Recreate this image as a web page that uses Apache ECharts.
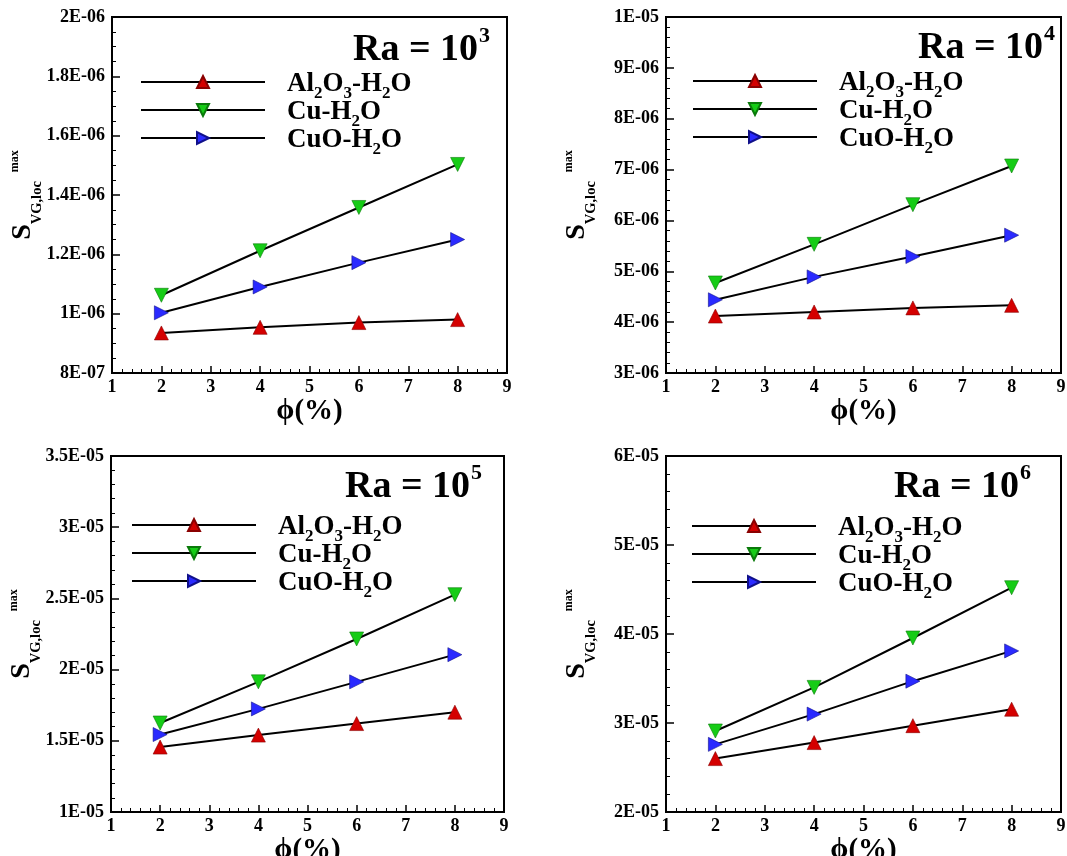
<!DOCTYPE html>
<html>
<head>
<meta charset="utf-8">
<script src="https://cdn.jsdelivr.net/npm/echarts@6/dist/echarts.min.js"></script>
<style>
  html, body { margin: 0; padding: 0; background: #ffffff; }
  #chart { width: 1067px; height: 856px; }
</style>
</head>
<body>
<div id="chart"></div>
<script>
// Nanoparticle volume fraction phi (%)
const phi = [2, 4, 6, 8];

// Nanofluid names (legend entries)
const fluidNames = ['Al2O3-H2O', 'Cu-H2O', 'CuO-H2O'];

// Rayleigh number exponents, one panel each
const raExponents = ['3', '4', '5', '6'];

// Maximum local entropy generation S_VG,loc for each Rayleigh number
const ra3Al2O3 = [0.935e-6, 0.954e-6, 0.970e-6, 0.980e-6];
const ra3Cu    = [1.062e-6, 1.212e-6, 1.358e-6, 1.503e-6];
const ra3CuO   = [1.003e-6, 1.090e-6, 1.172e-6, 1.250e-6];

const ra4Al2O3 = [4.12e-6, 4.20e-6, 4.28e-6, 4.33e-6];
const ra4Cu    = [4.77e-6, 5.53e-6, 6.31e-6, 7.07e-6];
const ra4CuO   = [4.44e-6, 4.89e-6, 5.29e-6, 5.71e-6];

const ra5Al2O3 = [1.456e-5, 1.540e-5, 1.621e-5, 1.701e-5];
const ra5Cu    = [1.625e-5, 1.914e-5, 2.215e-5, 2.526e-5];
const ra5CuO   = [1.544e-5, 1.724e-5, 1.914e-5, 2.105e-5];

const ra6Al2O3 = [2.60e-5, 2.78e-5, 2.97e-5, 3.155e-5];
const ra6Cu    = [2.91e-5, 3.40e-5, 3.955e-5, 4.52e-5];
const ra6CuO   = [2.76e-5, 3.10e-5, 3.47e-5, 3.81e-5];

const panelValues = [
  [ra3Al2O3, ra3Cu, ra3CuO],
  [ra4Al2O3, ra4Cu, ra4CuO],
  [ra5Al2O3, ra5Cu, ra5CuO],
  [ra6Al2O3, ra6Cu, ra6CuO]
];

// Axis ranges
const xMin = 1, xMax = 9, xStep = 1;
const yMin  = [8e-7, 3e-6, 1e-5, 2e-5];
const yMax  = [2e-6, 1e-5, 3.5e-5, 6e-5];
const yStep = [2e-7, 1e-6, 5e-6, 1e-5];
const yMinorSplits = [4, 5, 5, 5];

// ---- layout & style ----
const FONT = '"Liberation Serif", "Times New Roman", serif';
const grids = [
  { left: 112, top: 17,  width: 395, height: 356 },
  { left: 666, top: 17,  width: 395, height: 356 },
  { left: 111, top: 456, width: 393, height: 356 },
  { left: 666, top: 456, width: 395, height: 356 }
];
const legendPos = [
  { left: 140, top: 69 },
  { left: 692, top: 68 },
  { left: 131, top: 512 },
  { left: 691, top: 513 }
];
const titlePos = [
  { left: 353, top: 25 },
  { left: 918, top: 23 },
  { left: 345, top: 462 },
  { left: 894, top: 462 }
];
const markerStyles = [
  { symbol: 'triangle', rotate: 0,   color: '#d40000', border: '#8a0000' },
  { symbol: 'triangle', rotate: 180, color: '#16cc16', border: '#0a7a0a' },
  { symbol: 'triangle', rotate: -90, color: '#2a2aff', border: '#10108a' }
];

// Chemical formulas with subscripts
const richNames = {
  'Al2O3-H2O': '{m|Al}{s|2}{m|O}{s|3}{m|-H}{s|2}{m|O}',
  'Cu-H2O': '{m|Cu-H}{s|2}{m|O}',
  'CuO-H2O': '{m|CuO-H}{s|2}{m|O}'
};

// 1.2e-6 -> "1.2E-06"
function sciLabel(v) {
  if (v === 0) return '0';
  let e = Math.floor(Math.log10(Math.abs(v)) + 1e-9);
  let m = Math.round(v / Math.pow(10, e) * 100) / 100;
  if (m >= 10) { m /= 10; e += 1; }
  return m + 'E' + (e < 0 ? '-' : '+') + String(Math.abs(e)).padStart(2, '0');
}

const option = {
  backgroundColor: '#ffffff',
  animation: false,
  grid: [], xAxis: [], yAxis: [], legend: [], title: [], series: []
};

grids.forEach((g, p) => {
  option.grid.push(Object.assign({
    show: true, borderColor: '#000', borderWidth: 2, backgroundColor: 'transparent',
    containLabel: false, outerBoundsMode: 'none'
  }, g));

  option.xAxis.push({
    gridIndex: p, type: 'value', min: xMin, max: xMax, interval: xStep,
    name: 'ϕ(%)', nameLocation: 'middle', nameGap: 24, nameMoveOverlap: false,
    nameTextStyle: { fontFamily: FONT, fontWeight: 'bold', fontSize: 29, color: '#000' },
    axisLine: { show: true, onZero: false, lineStyle: { color: '#000', width: 2 } },
    axisTick: { show: true, inside: true, length: 7, lineStyle: { color: '#000', width: 1.5 } },
    minorTick: { show: true, splitNumber: 5, length: 4, lineStyle: { color: '#000', width: 1 } },
    axisLabel: { fontFamily: FONT, fontWeight: 'bold', fontSize: 18, color: '#000', margin: 5 },
    splitLine: { show: false }
  });

  option.yAxis.push({
    gridIndex: p, type: 'value', min: yMin[p], max: yMax[p], interval: yStep[p],
    name: '{S|S}{b|VG,loc}{p|max}', nameLocation: 'middle', nameRotate: 90, nameGap: 75,
    nameMoveOverlap: false,
    nameTextStyle: {
      color: '#000',
      rich: {
        S: { fontFamily: FONT, fontWeight: 'bold', fontSize: 28, lineHeight: 28, verticalAlign: 'top', padding: [0, 0, 0, 0], color: '#000' },
        b: { fontFamily: FONT, fontWeight: 'bold', fontSize: 14.5, lineHeight: 14, verticalAlign: 'top', padding: [21, 0, 0, 0], color: '#000' },
        p: { fontFamily: FONT, fontWeight: 'bold', fontSize: 12, lineHeight: 12, verticalAlign: 'top', padding: [0, 0, 0, 9], color: '#000' }
      }
    },
    axisLine: { show: true, onZero: false, lineStyle: { color: '#000', width: 2 } },
    axisTick: { show: true, inside: true, length: 8, lineStyle: { color: '#000', width: 1.5 } },
    minorTick: { show: true, splitNumber: yMinorSplits[p], length: 4, lineStyle: { color: '#000', width: 1 } },
    axisLabel: { fontFamily: FONT, fontWeight: 'bold', fontSize: 18, color: '#000', margin: 7, formatter: sciLabel },
    splitLine: { show: false }
  });

  option.title.push({
    left: titlePos[p].left, top: titlePos[p].top, padding: 0,
    text: '{a|Ra = 10}{b|' + raExponents[p] + '}',
    textStyle: {
      rich: {
        a: { fontFamily: FONT, fontWeight: 'bold', fontSize: 38, lineHeight: 38, verticalAlign: 'top', padding: [6, 0, 0, 0], color: '#000' },
        b: { fontFamily: FONT, fontWeight: 'bold', fontSize: 22, lineHeight: 22, verticalAlign: 'top', padding: [0, 0, 0, 1], color: '#000' }
      }
    }
  });

  option.legend.push({
    left: legendPos[p].left, top: legendPos[p].top, orient: 'vertical', padding: 0,
    itemWidth: 124, itemHeight: 15, itemGap: -5, selectedMode: false,
    data: fluidNames,
    formatter: name => richNames[name],
    textStyle: {
      padding: [0, 0, 0, 17],
      rich: {
        m: { fontFamily: FONT, fontWeight: 'bold', fontSize: 27, lineHeight: 26, verticalAlign: 'top', padding: [2, 0, 0, 0], color: '#000' },
        s: { fontFamily: FONT, fontWeight: 'bold', fontSize: 17, lineHeight: 17, verticalAlign: 'top', padding: [16, 0, 0, 0], color: '#000' }
      }
    }
  });

  panelValues[p].forEach((vals, k) => {
    const ms = markerStyles[k];
    option.series.push({
      type: 'line', name: fluidNames[k], xAxisIndex: p, yAxisIndex: p,
      data: phi.map((x, i) => [x, vals[i]]),
      symbol: ms.symbol, symbolRotate: ms.rotate, symbolSize: 14,
      showAllSymbol: true,
      lineStyle: { color: '#000', width: 2 },
      itemStyle: { color: ms.color, borderColor: ms.border, borderWidth: 0.6 },
      emphasis: { disabled: true },
      z: 3 + k
    });
  });
});

const chart = echarts.init(document.getElementById('chart'), null, { renderer: 'canvas' });
chart.setOption(option);
</script>
</body>
</html>
